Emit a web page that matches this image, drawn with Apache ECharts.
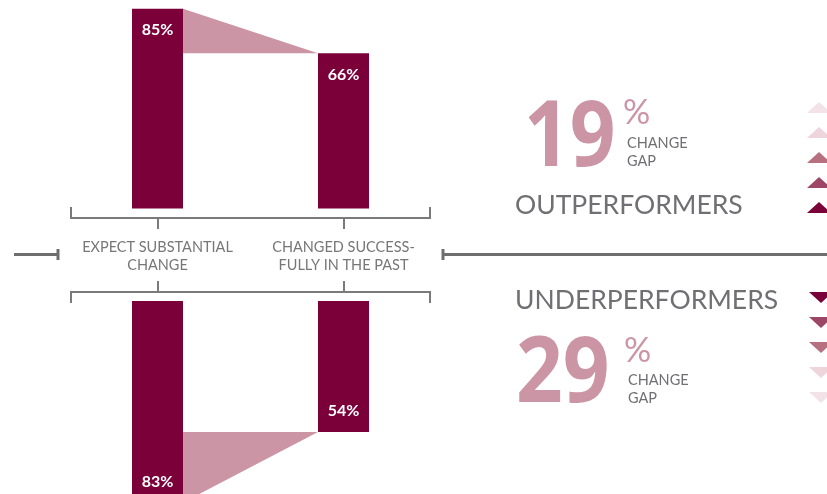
<!DOCTYPE html>
<html>
<head>
<meta charset="utf-8">
<script src="https://cdn.jsdelivr.net/npm/echarts@6/dist/echarts.min.js"></script>
<style>
  html, body { margin: 0; padding: 0; background: #fff; }
  #chart { width: 827px; height: 494px; }
</style>
</head>
<body>
<div id="chart"></div>
<script>
// data
const categories = ['EXPECT SUBSTANTIAL\nCHANGE', 'CHANGED SUCCESS-\nFULLY IN THE PAST'];
const outperformers = [85, 66];
const underperformers = [83, 54];
const groupNames = ['OUTPERFORMERS', 'UNDERPERFORMERS'];
const gapLabel = 'CHANGE\nGAP';

const BAR = '#7b0039';
const PINK = '#cc95a5';
const GREY = '#707074';
const LINE = '#7a7a7a';
const FONT = 'Lato';
const BIG_FONT = '"Open Sans"';

const upArrows = ['#f3e2e7', '#eed4db', '#b6707f', '#9c4766', '#7b0039'];
const downArrows = ['#7b0039', '#9c4766', '#b6707f', '#eed4db', '#f3e2e7'];

const chart = echarts.init(document.getElementById('chart'));

const gapTop = outperformers[0] - outperformers[1];
const gapBottom = underperformers[0] - underperformers[1];

function gapShape(params, api) {
  const p0 = api.coord([0, api.value(1)]);
  const p1 = api.coord([1, api.value(2)]);
  const half = 25.5;
  return {
    type: 'polygon',
    shape: { points: [[p0[0] + half, p0[1]], [p1[0] - half, p1[1]], [p0[0] + half, p1[1]]] },
    style: { fill: PINK }
  };
}

function barSeries(idx, data, pos, dist) {
  return {
    type: 'bar',
    xAxisIndex: idx,
    yAxisIndex: idx,
    data: data,
    barWidth: 51,
    clip: false,
    itemStyle: { color: BAR },
    silent: true,
    label: {
      show: true,
      position: pos,
      distance: dist,
      formatter: '{c}%',
      color: '#fff',
      fontFamily: FONT,
      fontWeight: 'bold',
      fontSize: 16
    }
  };
}

const graphics = [];

function txt(x, y, text, size, color, font, weight, extra) {
  graphics.push(Object.assign({
    type: 'text', x: x, y: y,
    style: { text: text, fill: color, fontFamily: font, fontSize: size, fontWeight: weight, lineHeight: 18, textAlign: 'left', textVerticalAlign: 'middle' }
  }, extra || {}));
}

// brackets
graphics.push({ type: 'polyline', shape: { points: [[71, 207], [71, 218], [430, 218], [430, 207]] }, style: { stroke: LINE, lineWidth: 2, fill: null } });
graphics.push({ type: 'line', shape: { x1: 158, y1: 218, x2: 158, y2: 229 }, style: { stroke: LINE, lineWidth: 2 } });
graphics.push({ type: 'line', shape: { x1: 344, y1: 218, x2: 344, y2: 229 }, style: { stroke: LINE, lineWidth: 2 } });
graphics.push({ type: 'polyline', shape: { points: [[71, 303], [71, 292], [430, 292], [430, 303]] }, style: { stroke: LINE, lineWidth: 2, fill: null } });
graphics.push({ type: 'line', shape: { x1: 158, y1: 292, x2: 158, y2: 281 }, style: { stroke: LINE, lineWidth: 2 } });
graphics.push({ type: 'line', shape: { x1: 344, y1: 292, x2: 344, y2: 281 }, style: { stroke: LINE, lineWidth: 2 } });
// side rules
graphics.push({ type: 'line', shape: { x1: 14, y1: 254.5, x2: 58, y2: 254.5 }, style: { stroke: '#6e6e6e', lineWidth: 3 } });
graphics.push({ type: 'line', shape: { x1: 58, y1: 249, x2: 58, y2: 260 }, style: { stroke: '#6e6e6e', lineWidth: 3 } });
graphics.push({ type: 'line', shape: { x1: 443, y1: 254.5, x2: 827, y2: 254.5 }, style: { stroke: '#6e6e6e', lineWidth: 3 } });
graphics.push({ type: 'line', shape: { x1: 443, y1: 249, x2: 443, y2: 260 }, style: { stroke: '#6e6e6e', lineWidth: 3 } });

// right panel text
txt(524, 140, String(gapTop), 92, PINK, BIG_FONT, 'bold', { scaleX: 0.87 });
txt(516, 376, String(gapBottom), 92, PINK, BIG_FONT, 'bold', { scaleX: 0.89 });
txt(623, 113, '%', 34, PINK, FONT, 'normal');
txt(624, 351, '%', 34, PINK, FONT, 'normal');
txt(627, 152, gapLabel, 14.5, GREY, FONT, 'normal');
txt(628, 389, gapLabel, 14.5, GREY, FONT, 'normal');
txt(515, 205, groupNames[0], 26.5, GREY, FONT, 'normal');
txt(515, 300, groupNames[1], 26.5, GREY, FONT, 'normal');

// arrow stacks
upArrows.forEach((c, i) => {
  const y = 102 + i * 25;
  graphics.push({ type: 'polygon', shape: { points: [[807, y + 11], [819, y], [831, y + 11]] }, style: { fill: c } });
});
downArrows.forEach((c, i) => {
  const y = 292 + i * 25;
  graphics.push({ type: 'polygon', shape: { points: [[809, y], [833, y], [821, y + 11]] }, style: { fill: c } });
});

const hiddenY = { show: false, splitLine: { show: false } };

chart.setOption({
  backgroundColor: '#fff',
  animation: false,
  grid: [
    { left: 64.5, width: 372, top: 0, height: 208.5 },
    { left: 64.5, width: 372, top: 301, height: 193 }
  ],
  xAxis: [
    {
      type: 'category', gridIndex: 0, data: categories,
      axisLine: { show: false }, axisTick: { show: false },
      axisLabel: { interval: 0, hideOverlap: false, color: '#777', fontFamily: FONT, fontSize: 14.5, lineHeight: 18, margin: 30 }
    },
    {
      type: 'category', gridIndex: 1, data: categories,
      axisLine: { show: false }, axisTick: { show: false }, axisLabel: { show: false }
    }
  ],
  yAxis: [
    Object.assign({ type: 'value', gridIndex: 0, min: 0, max: 88.7 }, hiddenY),
    Object.assign({ type: 'value', gridIndex: 1, min: 0, max: 79.5, inverse: true }, hiddenY)
  ],
  series: [
    { type: 'custom', xAxisIndex: 0, yAxisIndex: 0, renderItem: gapShape, data: [[0, outperformers[0], outperformers[1]]], silent: true, clip: false, z: 1 },
    { type: 'custom', xAxisIndex: 1, yAxisIndex: 1, renderItem: gapShape, data: [[0, underperformers[0], underperformers[1]]], silent: true, clip: false, z: 1 },
    barSeries(0, outperformers, 'insideTop', 13),
    barSeries(1, underperformers, 'insideBottom', 13)
  ],
  graphic: graphics
});
</script>
</body>
</html>
